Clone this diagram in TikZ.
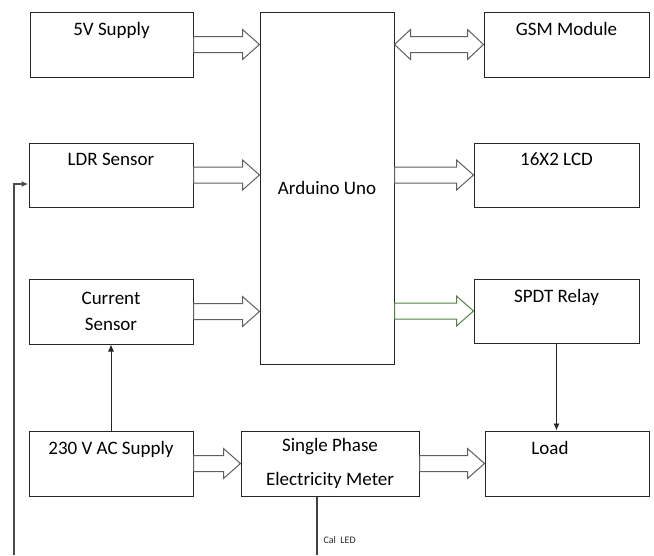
\documentclass[tikz,border=0pt]{standalone}
\usepackage{fontspec}
\setmainfont{Carlito}
\usepackage{tikz}
\usetikzlibrary{arrows.meta, calc}
\definecolor{relaygreen}{RGB}{84,128,72}
\definecolor{arrowgray}{RGB}{95,95,95}

% hollow block arrow, #2 -> #3 on one horizontal line
\newcommand{\blockarrow}[3][arrowgray]{%
  \draw[#1, line width=1pt, fill=white] let \p1=(#2), \p2=(#3) in
    (\x1,\y1+8pt) -- (\x2-17pt,\y1+8pt) -- (\x2-17pt,\y1+15pt) -- (\x2,\y1)
    -- (\x2-17pt,\y1-15pt) -- (\x2-17pt,\y1-8pt) -- (\x1,\y1-8pt) -- cycle;}
% hollow block arrow with a head at both ends
\newcommand{\dblarrow}[3][arrowgray]{%
  \draw[#1, line width=1pt, fill=white] let \p1=(#2), \p2=(#3) in
    (\x1,\y1) -- (\x1+16pt,\y1+15pt) -- (\x1+16pt,\y1+8pt) -- (\x2-16pt,\y1+8pt)
    -- (\x2-16pt,\y1+15pt) -- (\x2,\y1) -- (\x2-16pt,\y1-15pt) -- (\x2-16pt,\y1-8pt)
    -- (\x1+16pt,\y1-8pt) -- (\x1+16pt,\y1-15pt) -- cycle;}

\begin{document}
\begin{tikzpicture}[x=1pt, y=-1pt,
    blk/.style={draw=black!85, line width=1pt, align=center, inner sep=0pt,
      font=\fontsize{19}{31}\selectfont},
    sig/.style={draw=black!85, line width=0.9pt, -{Latex[length=7pt, width=6pt]}},
    wire/.style={draw=black!75, line width=1.3pt}]
  \useasboundingbox (0,0) rectangle (654,555);

  % left column
  \node[blk, minimum width=163, minimum height=65] (sup5) at (111.5,44.5) {5V Supply\\~};
  \node[blk, minimum width=164, minimum height=64] (ldr) at (111,175) {LDR Sensor\\~};
  \node[blk, minimum width=164, minimum height=65] (cur) at (111,311.5) {Current\\[-5pt]Sensor};
  \node[blk, minimum width=164, minimum height=65] (ac) at (111,463.5) {230 V AC Supply\\~};

  % controller and meter
  \node[blk, minimum width=134, minimum height=352] (ard) at (327,188) {Arduino Uno};
  \node[blk, minimum width=178, minimum height=65] (meter) at (330,463.5) {Single Phase\\[3pt]Electricity Meter};

  % right column
  \node[blk, minimum width=165, minimum height=65] (gsm) at (566.5,44.5) {GSM Module\\~};
  \node[blk, minimum width=165, minimum height=64] (lcd) at (556.5,175) {16X2 LCD\\~};
  \node[blk, minimum width=165, minimum height=64] (relay) at (556.5,311) {SPDT Relay\\~};
  \node[blk, minimum width=164, minimum height=65] (load) at (567,463.5) {Load\hspace*{34pt}\\~};

  % block arrows
  \blockarrow{sup5.east}{sup5.east -| ard.west}
  \blockarrow{ldr.east}{ldr.east -| ard.west}
  \blockarrow{cur.east}{cur.east -| ard.west}
  \dblarrow{gsm.west -| ard.east}{gsm.west}
  \blockarrow{lcd.west -| ard.east}{lcd.west}
  \blockarrow[relaygreen]{relay.west -| ard.east}{relay.west}
  \blockarrow{ac.east}{meter.west}
  \blockarrow{meter.east}{load.west}

  % thin lines
  \draw[sig] (ac.north) -- (cur.south);
  \draw[sig] (relay.south) -- (relay.south |- load.north);
  \coordinate (feed) at (14,555);
  \draw[sig, line width=1.3pt, draw=black!70] (feed) |- ([yshift=-9pt]ldr.west);
  \coordinate (calend) at (317,555);
  \draw[wire] (calend |- meter.south) -- (calend);
  \node[anchor=west, font=\fontsize{10}{12}\selectfont, text=black!85] (cal) at (320,540) {Cal\ \ LED};
\end{tikzpicture}
\end{document}
